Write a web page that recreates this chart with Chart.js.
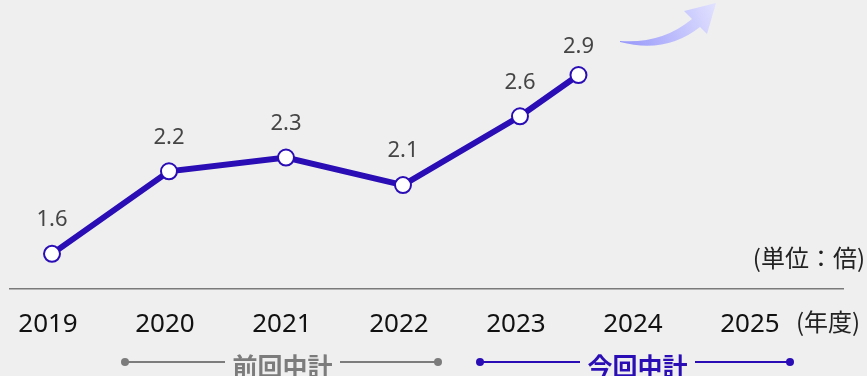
<!DOCTYPE html>
<html>
<head>
<meta charset="utf-8">
<script src="https://cdn.jsdelivr.net/npm/chart.js@4"></script>
<style>
  html, body { margin: 0; padding: 0; background: #efefef; }
  canvas { display: block; }
</style>
</head>
<body>
<canvas id="lineChart" width="867" height="376"></canvas>
<script>
const yearTicks = [2019, 2020, 2021, 2022, 2023, 2024, 2025];
const pointYears = [2019, 2020, 2021, 2022, 2023, 2023.5];
const ratios = [1.6, 2.2, 2.3, 2.1, 2.6, 2.9];

const lineColor = "#2a0db5";
const fontFamily = '"Noto Sans", "Noto Sans CJK JP", sans-serif';
const jpFont = '"Noto Sans CJK JP", "Noto Sans", sans-serif';

// value labels above each point
const valueLabels = {
    id: "valueLabels",
    afterDatasetsDraw(chart) {
        const { ctx } = chart;
        const meta = chart.getDatasetMeta(0);
        ctx.save();
        ctx.font = `22px ${fontFamily}`;
        ctx.fillStyle = "#454545";
        ctx.textAlign = "center";
        ctx.textBaseline = "middle";
        meta.data.forEach((pt, i) => {
            const lift = i === meta.data.length - 1 ? 28 : 34;
            ctx.fillText(ratios[i].toFixed(1), pt.x, pt.y - lift);
        });
        ctx.restore();
    },
};

// arrow, unit text, plan brackets
const decorations = {
    id: "decorations",
    afterDraw(chart) {
        const { ctx } = chart;
        ctx.save();

        // arrow
        const grad = ctx.createLinearGradient(620, 42, 716, 3);
        grad.addColorStop(0, "rgb(150,150,250)");
        grad.addColorStop(1, "rgb(226,226,255)");
        ctx.fillStyle = grad;
        ctx.beginPath();
        ctx.moveTo(620, 41);
        ctx.quadraticCurveTo(662, 44, 692, 19);
        ctx.lineTo(684, 11);
        ctx.lineTo(716, 3);
        ctx.lineTo(707, 34);
        ctx.lineTo(700, 27);
        ctx.quadraticCurveTo(666, 54, 620, 42);
        ctx.closePath();
        ctx.fill();

        // units
        ctx.fillStyle = "#222";
        ctx.textBaseline = "middle";
        ctx.font = `24px ${jpFont}`;
        ctx.textAlign = "right";
        ctx.fillText("(単位：倍)", 865, 258);
        ctx.font = `24px ${jpFont}`;
        ctx.textAlign = "left";
        ctx.fillText("(年度)", 796, 322);

        // brackets
        const bracket = (x1, x2, tx1, tx2, label, color) => {
            ctx.strokeStyle = color;
            ctx.fillStyle = color;
            ctx.lineWidth = 2;
            ctx.beginPath();
            ctx.moveTo(x1, 362);
            ctx.lineTo(tx1, 362);
            ctx.moveTo(tx2, 362);
            ctx.lineTo(x2, 362);
            ctx.stroke();
            [x1, x2].forEach((x) => {
                ctx.beginPath();
                ctx.arc(x, 362, 4, 0, Math.PI * 2);
                ctx.fill();
            });
            ctx.font = `bold 25px ${jpFont}`;
            ctx.textAlign = "center";
            ctx.fillText(label, (tx1 + tx2) / 2, 366);
        };
        bracket(125, 438, 225, 340, "前回中計", "#7c7c7c");
        bracket(480, 790, 580, 695, "今回中計", lineColor);

        ctx.restore();
    },
};

const ctx = document.getElementById("lineChart").getContext("2d");
new Chart(ctx, {
    type: "line",
    data: {
        datasets: [
            {
                data: pointYears.map((x, i) => ({ x, y: ratios[i] })),
                borderColor: lineColor,
                borderWidth: 6,
                pointRadius: 8,
                pointBorderWidth: 2,
                pointBackgroundColor: "#fff",
                pointBorderColor: lineColor,
                tension: 0,
                clip: false,
            },
        ],
    },
    options: {
        responsive: false,
        animation: false,
        layout: { padding: { left: 10, right: 24, top: 20, bottom: 16 } },
        plugins: {
            legend: { display: false },
            tooltip: { enabled: false },
        },
        scales: {
            x: {
                type: "linear",
                min: 2018.641,
                max: 2025.761,
                afterBuildTicks: (axis) => {
                    axis.ticks = yearTicks.map((v) => ({ value: v }));
                },
                grid: { display: false, drawTicks: false },
                border: { display: true, color: "#7a7a7a", width: 1.5 },
                ticks: {
                    padding: 20,
                    labelOffset: -4,
                    maxRotation: 0,
                    autoSkip: false,
                    color: "#111",
                    font: { family: fontFamily, size: 26 },
                    callback: (v) => String(v),
                },
            },
            y: {
                display: false,
                min: 1.346,
                max: 3.3,
            },
        },
    },
    plugins: [valueLabels, decorations],
});
</script>
</body>
</html>
